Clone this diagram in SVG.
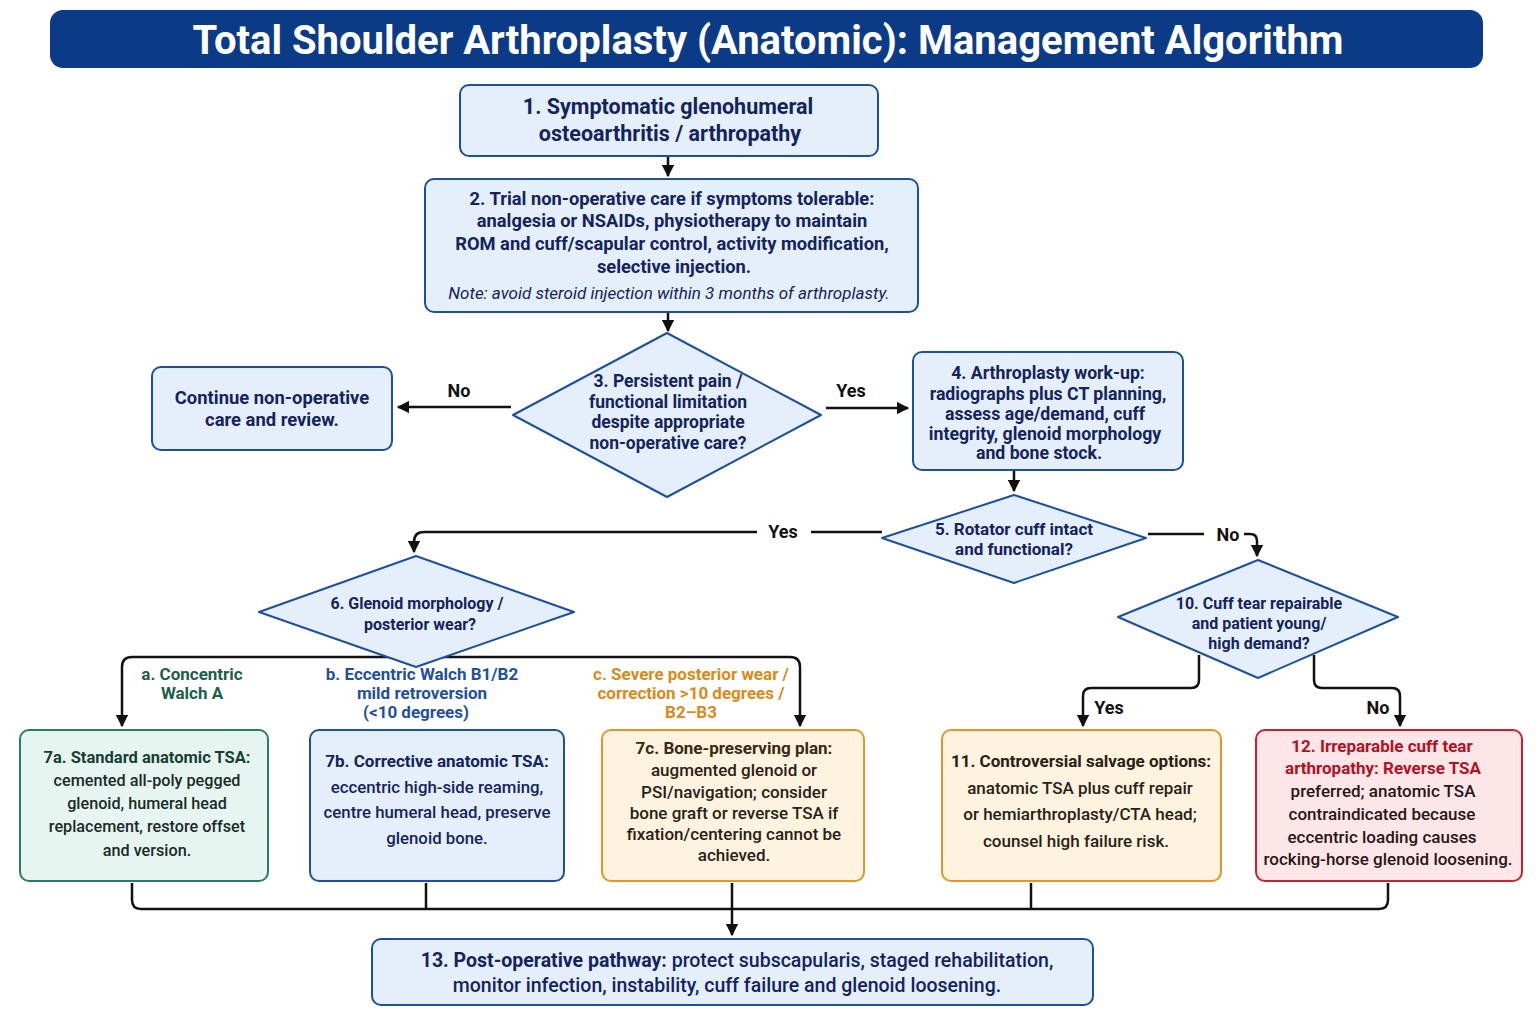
<svg xmlns="http://www.w3.org/2000/svg" width="1536" height="1024" viewBox="0 0 1536 1024">
<defs>
<marker id="ah" viewBox="0 0 10 10" refX="9" refY="5" markerWidth="5" markerHeight="5" orient="auto-start-reverse" markerUnits="strokeWidth">
<path d="M0,0 L10,5 L0,10 z" fill="#111"/>
</marker>
<style>
text{font-family:Roboto,"Liberation Sans",sans-serif;text-anchor:middle}
.b{font-weight:700}
.m{font-weight:500}
.nv{fill:#13235e}
.blueN{fill:#e5effb;stroke:#1d4f9e;stroke-width:2}
.green{fill:#e7f5f0;stroke:#2a7d64;stroke-width:2}
.orange{fill:#fdf3df;stroke:#e0962a;stroke-width:2}
.red{fill:#fde6e8;stroke:#cc2030;stroke-width:2}
.c{fill:none;stroke:#111;stroke-width:2.5}
.lbl{font-weight:700;font-size:18px;fill:#111}
</style>
</defs>
<rect width="1536" height="1024" fill="#ffffff"/>

<g id="title">
<rect x="50" y="10" width="1433" height="58" rx="13" fill="#0b3b86"/>
<text x="768" y="54" class="b" font-size="40" fill="#ffffff">Total Shoulder Arthroplasty (Anatomic): Management Algorithm</text>
</g>

<g id="connectors">
<path class="c" d="M668 157 V176" marker-end="url(#ah)"/>
<path class="c" d="M668 313 V331" marker-end="url(#ah)"/>
<path class="c" d="M511 407 H398" marker-end="url(#ah)"/>
<path class="c" d="M826 408 H908" marker-end="url(#ah)"/>
<path class="c" d="M1014 471 V491" marker-end="url(#ah)"/>
<path class="c" d="M882 532 H811"/>
<path class="c" d="M757 532 H424 Q414 532 414 542 V552" marker-end="url(#ah)"/>
<path class="c" d="M1148 534 H1204"/>
<path class="c" d="M1244 534 H1250 Q1257 534 1257 541 V556" marker-end="url(#ah)"/>
<path class="c" d="M416 657 H132 Q122 657 122 667 V726" marker-end="url(#ah)"/>
<path class="c" d="M416 657 H790 Q800 657 800 667 V726" marker-end="url(#ah)"/>
<path class="c" d="M1199 655 V680 Q1199 688 1191 688 H1091 Q1083 688 1083 696 V726" marker-end="url(#ah)"/>
<path class="c" d="M1314 655 V680 Q1314 688 1322 688 H1392 Q1400 688 1400 696 V726" marker-end="url(#ah)"/>
<path class="c" d="M132 883 V900 Q132 909 141 909 H1379 Q1388 909 1388 900 V883"/>
<path class="c" d="M426 883 V909"/>
<path class="c" d="M1031 883 V909"/>
<path class="c" d="M732 883 V935" marker-end="url(#ah)"/>
<text x="459" y="397" class="lbl">No</text>
<text x="851" y="397" class="lbl">Yes</text>
<text x="783" y="538" class="lbl">Yes</text>
<text x="1228" y="541" class="lbl">No</text>
<text x="1109" y="714" class="lbl">Yes</text>
<text x="1378" y="714" class="lbl">No</text>
<g class="b" font-size="17">
<text x="192" y="680" fill="#1b5e4a">a. Concentric</text>
<text x="192" y="699" fill="#1b5e4a">Walch A</text>
<text x="422" y="680" fill="#1f4fa0">b. Eccentric Walch B1/B2</text>
<text x="422" y="699" fill="#1f4fa0">mild retroversion</text>
<text x="416" y="718" fill="#1f4fa0">(&lt;10 degrees)</text>
<text x="691" y="680" fill="#d98a1a">c. Severe posterior wear /</text>
<text x="691" y="699" fill="#d98a1a">correction &gt;10 degrees /</text>
<text x="691" y="718" fill="#d98a1a">B2–B3</text>
</g>
</g>

<g id="n1">
<rect x="460" y="85" width="418" height="71" rx="9" class="blueN"/>
<text x="668" y="114" class="b nv" font-size="21.5">1. Symptomatic glenohumeral</text>
<text x="670" y="141" class="b nv" font-size="21.5">osteoarthritis / arthropathy</text>
</g>

<g id="n2">
<rect x="425" y="179" width="493" height="133" rx="9" class="blueN"/>
<g class="b nv" font-size="18.3">
<text x="672" y="205">2. Trial non-operative care if symptoms tolerable:</text>
<text x="672" y="227">analgesia or NSAIDs, physiotherapy to maintain</text>
<text x="672" y="250">ROM and cuff/scapular control, activity modification,</text>
<text x="674" y="273">selective injection.</text>
</g>
<text x="669" y="299" class="nv" font-size="17" font-style="italic">Note: avoid steroid injection within 3 months of arthroplasty.</text>
</g>

<g id="n3">
<polygon points="667,333 821,415 667,497 513,415" class="blueN" stroke-linejoin="round"/>
<g class="b nv" font-size="17.5">
<text x="668" y="387">3. Persistent pain /</text>
<text x="668" y="408">functional limitation</text>
<text x="668" y="428">despite appropriate</text>
<text x="668" y="449">non-operative care?</text>
</g>
</g>

<g id="nContinue">
<rect x="152" y="367" width="240" height="83" rx="9" class="blueN"/>
<text x="272" y="404" class="b nv" font-size="18.4">Continue non-operative</text>
<text x="272" y="426" class="b nv" font-size="18.4">care and review.</text>
</g>

<g id="n4">
<rect x="913" y="352" width="270" height="118" rx="9" class="blueN"/>
<g class="b nv" font-size="17.7">
<text x="1048" y="379">4. Arthroplasty work-up:</text>
<text x="1048" y="400">radiographs plus CT planning,</text>
<text x="1045" y="420">assess age/demand, cuff</text>
<text x="1045" y="440">integrity, glenoid morphology</text>
<text x="1039" y="459">and bone stock.</text>
</g>
</g>

<g id="n5">
<polygon points="1014,495 1146,538 1014,583 882,538" class="blueN" stroke-linejoin="round"/>
<text x="1014" y="535" class="b nv" font-size="17">5. Rotator cuff intact</text>
<text x="1014" y="555" class="b nv" font-size="17">and functional?</text>
</g>

<g id="n6">
<polygon points="416,556 574,612 416,667 259,612" class="blueN" stroke-linejoin="round"/>
<text x="417" y="609" class="b nv" font-size="16">6. Glenoid morphology /</text>
<text x="420" y="630" class="b nv" font-size="16">posterior wear?</text>
</g>

<g id="n10">
<polygon points="1258,560 1398,617 1258,678 1118,617" class="blueN" stroke-linejoin="round"/>
<g class="b nv" font-size="16">
<text x="1259" y="609">10. Cuff tear repairable</text>
<text x="1259" y="629">and patient young/</text>
<text x="1259" y="649">high demand?</text>
</g>
</g>

<g id="n7a">
<rect x="20" y="730" width="248" height="151" rx="9" class="green"/>
<text x="147" y="763" class="b" font-size="16.5" fill="#153f32">7a. Standard anatomic TSA:</text>
<g class="m" font-size="16.2" fill="#1a2a28">
<text x="147" y="786">cemented all-poly pegged</text>
<text x="147" y="809">glenoid, humeral head</text>
<text x="147" y="832">replacement, restore offset</text>
<text x="147" y="856">and version.</text>
</g>
</g>

<g id="n7b">
<rect x="310" y="730" width="254" height="151" rx="9" class="blueN"/>
<text x="437" y="767" class="b nv" font-size="17">7b. Corrective anatomic TSA:</text>
<g class="m nv" font-size="16.8">
<text x="437" y="793">eccentric high-side reaming,</text>
<text x="437" y="818">centre humeral head, preserve</text>
<text x="437" y="844">glenoid bone.</text>
</g>
</g>

<g id="n7c">
<rect x="602" y="730" width="262" height="151" rx="9" class="orange"/>
<text x="734" y="754" class="b" font-size="17" fill="#3a2810">7c. Bone-preserving plan:</text>
<g class="m" font-size="17" fill="#2a2014">
<text x="734" y="776">augmented glenoid or</text>
<text x="734" y="798">PSI/navigation; consider</text>
<text x="734" y="819">bone graft or reverse TSA if</text>
<text x="734" y="840">fixation/centering cannot be</text>
<text x="734" y="861">achieved.</text>
</g>
</g>

<g id="n11">
<rect x="942" y="730" width="279" height="151" rx="9" class="orange"/>
<text x="1081" y="767" class="b" font-size="17" fill="#2a2014">11. Controversial salvage options:</text>
<g class="m" font-size="17" fill="#2a2014">
<text x="1080" y="794">anatomic TSA plus cuff repair</text>
<text x="1080" y="820">or hemiarthroplasty/CTA head;</text>
<text x="1076" y="847">counsel high failure risk.</text>
</g>
</g>

<g id="n12">
<rect x="1256" y="730" width="266" height="151" rx="9" class="red"/>
<text x="1382" y="752" class="b" font-size="17" fill="#b5101f">12. Irreparable cuff tear</text>
<text x="1383" y="774" class="b" font-size="17" fill="#b5101f">arthropathy: Reverse TSA</text>
<g class="m" font-size="17" fill="#2a1416">
<text x="1383" y="797">preferred; anatomic TSA</text>
<text x="1382" y="820">contraindicated because</text>
<text x="1382" y="843">eccentric loading causes</text>
<text x="1388" y="865">rocking-horse glenoid loosening.</text>
</g>
</g>

<g id="n13">
<rect x="372" y="939" width="721" height="66" rx="9" class="blueN"/>
<text x="737" y="967" class="nv" font-size="19.5"><tspan font-weight="700">13. Post-operative pathway:</tspan><tspan font-weight="500"> protect subscapularis, staged rehabilitation,</tspan></text>
<text x="727" y="992" class="m nv" font-size="19.5">monitor infection, instability, cuff failure and glenoid loosening.</text>
</g>
</svg>
